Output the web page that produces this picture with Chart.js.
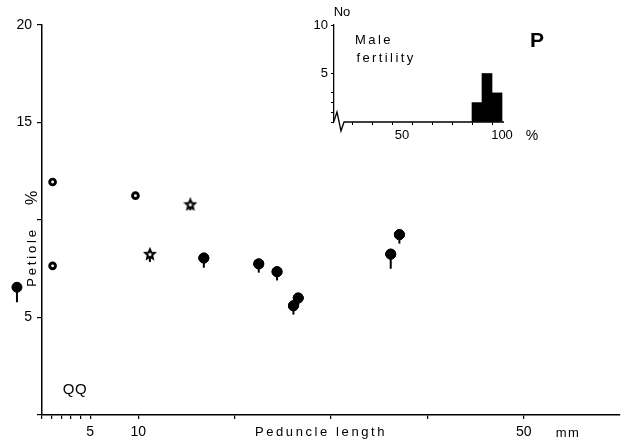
<!DOCTYPE html>
<html>
<head>
<meta charset="utf-8">
<script src="https://cdn.jsdelivr.net/npm/chart.js"></script>
<style>
  html, body { margin: 0; padding: 0; background: #fff; }
  #wrap { position: relative; width: 627px; height: 447px; }
  #main { position: absolute; left: 0; top: 0; }
  #inset { position: absolute; left: 300px; top: 0; }
</style>
</head>
<body>
<div id="wrap">
  <canvas id="main" width="627" height="447"></canvas>
  <canvas id="inset" width="240" height="150"></canvas>
</div>
<script>
// main plot: petiole % against peduncle length (mm)
const filledX = [-2.6, 16.8, 22.5, 24.4, 26.1, 26.6, 36.2, 37.1];
const filledY = [6.55, 8.05, 7.75, 7.35, 5.6, 6.0, 8.25, 9.25];
const filledStem = [0.77, 0.5, 0.45, 0.45, 0.45, 0.4, 0.75, 0.46];

const openX = [1.1, 1.1, 9.7];
const openY = [11.95, 7.65, 11.25];

const starX = [11.2, 15.4];
const starY = [8.25, 10.8];
const starStem = [0.4, 0.3];

const yTickValues = [0, 5, 10, 15, 20];
const yTickLabels = ["", "5", "", "15", "20"];
const xTickValues = [0, 1, 2, 3, 4, 5, 10, 20, 30, 40, 50];
const xTickLabels = ["", "", "", "", "", "5", "10", "", "", "", "50"];

// inset: male fertility histogram
const fertilityBins = [87.5, 92.5, 97.5];
const fertilityCounts = [2, 5, 3];
const insetYTickValues = [0, 1, 2, 3, 5, 10];
const insetYTickLabels = ["", "", "", "", "5", "10"];
const insetXTickValues = [30, 40, 50, 60, 70, 80, 90, 100];
const insetXTickLabels = ["", "", "50", "", "", "", "", "100"];

const FONT = "'Liberation Sans', 'DejaVu Sans', sans-serif";

function toPoints(xs, ys) {
    return xs.map((x, i) => ({ x: x, y: ys[i] }));
}

// small outlined star used for the third group
const starImg = document.createElement("canvas");
starImg.width = 14;
starImg.height = 14;
(function () {
    const c = starImg.getContext("2d");
    c.beginPath();
    for (let k = 0; k < 10; k++) {
        const r = k % 2 === 0 ? 5 : 2.3;
        const a = -Math.PI / 2 + k * Math.PI / 5;
        const px = 7 + r * Math.cos(a), py = 7.3 + r * Math.sin(a);
        if (k === 0) c.moveTo(px, py); else c.lineTo(px, py);
    }
    c.closePath();
    c.fillStyle = "#fff";
    c.fill();
    c.lineWidth = 2;
    c.strokeStyle = "#000";
    c.stroke();
})();

const stemPlugin = {
    id: "stems",
    beforeDatasetsDraw(chart) {
        const ctx = chart.ctx;
        const ys = chart.scales.y;
        chart.data.datasets.forEach((ds, i) => {
            if (!ds.stems) return;
            const meta = chart.getDatasetMeta(i);
            ctx.save();
            ctx.strokeStyle = "#000";
            ctx.lineWidth = 2;
            meta.data.forEach((pt, j) => {
                const end = ys.getPixelForValue(ds.data[j].y - ds.stems[j]);
                ctx.beginPath();
                ctx.moveTo(pt.x, pt.y);
                ctx.lineTo(pt.x, end);
                ctx.stroke();
            });
            ctx.restore();
        });
    },
    afterDatasetsDraw(chart) {
        // points left of the y axis are skipped by Chart.js, draw them over the whole canvas
        const full = { left: 0, top: 0, right: chart.width, bottom: chart.height };
        chart.data.datasets.forEach((ds, i) => {
            if (ds.clip !== false) return;
            chart.getDatasetMeta(i).data.forEach(pt => pt.draw(chart.ctx, full));
        });
    }
};

function drawText(ctx, text, x, y, size, opts = {}) {
    ctx.save();
    ctx.font = (opts.bold ? "bold " : "") + size + "px " + FONT;
    ctx.fillStyle = "#000";
    ctx.textAlign = "center";
    ctx.textBaseline = "middle";
    ctx.letterSpacing = (opts.spacing || 0) + "px";
    ctx.translate(x, y);
    if (opts.rotate) ctx.rotate(opts.rotate);
    ctx.fillText(text, 0, 0);
    ctx.restore();
}

const mainText = {
    id: "mainText",
    afterDraw(chart) {
        const ctx = chart.ctx;
        drawText(ctx, "Petiole", 32, 257, 13, { spacing: 2.8, rotate: -Math.PI / 2 });
        drawText(ctx, "%", 33, 198, 16, { rotate: -Math.PI / 2 });
        drawText(ctx, "Peduncle length", 321, 432, 13, { spacing: 2.6 });
        drawText(ctx, "mm", 568, 433, 13, { spacing: 1.5 });
        drawText(ctx, "QQ", 75, 390, 15, { spacing: 0.5 });
        drawText(ctx, "P", 537, 41, 21, { bold: true });
    }
};

new Chart(document.getElementById("main"), {
    type: "scatter",
    data: {
        datasets: [
            {
                data: toPoints(filledX, filledY),
                stems: filledStem,
                pointStyle: "circle",
                pointRadius: 5,
                borderWidth: 1,
                borderColor: "#000",
                backgroundColor: "#000",
                clip: false
            },
            {
                data: toPoints(openX, openY),
                pointStyle: "circle",
                pointRadius: 2.9,
                borderWidth: 2.9,
                borderColor: "#000",
                backgroundColor: "#fff"
            },
            {
                data: toPoints(starX, starY),
                stems: starStem,
                pointStyle: starImg,
                pointRadius: 6
            }
        ]
    },
    options: {
        responsive: false,
        animation: false,
        events: [],
        layout: { padding: { top: 25, right: 0, left: 0, bottom: 0 } },
        plugins: { legend: { display: false }, tooltip: { enabled: false } },
        scales: {
            x: {
                type: "linear",
                min: 0,
                max: 60,
                afterFit: (s) => { s.height = 32; },
                afterBuildTicks: (s) => { s.ticks = xTickValues.map(v => ({ value: v })); },
                ticks: {
                    autoSkip: false,
                    maxRotation: 0,
                    padding: 5,
                    color: "#000",
                    font: { family: FONT, size: 14 },
                    callback: (v, i) => xTickLabels[i]
                },
                grid: { drawOnChartArea: false, tickLength: 4, color: "#000", lineWidth: 1.2 },
                border: { color: "#000", width: 1.5 }
            },
            y: {
                type: "linear",
                min: 0,
                max: 20,
                afterFit: (s) => { s.width = 42; },
                afterBuildTicks: (s) => { s.ticks = yTickValues.map(v => ({ value: v })); },
                ticks: {
                    autoSkip: false,
                    padding: 5,
                    color: "#000",
                    font: { family: FONT, size: 14 },
                    callback: (v, i) => yTickLabels[i]
                },
                grid: { drawOnChartArea: false, tickLength: 5, color: "#000", lineWidth: 1.2 },
                border: { color: "#000", width: 1.5 }
            }
        }
    },
    plugins: [stemPlugin, mainText]
});

const insetDecor = {
    id: "insetDecor",
    afterDraw(chart) {
        const ctx = chart.ctx;
        const a = chart.chartArea;
        // broken axis zigzag and the x axis line after it
        ctx.save();
        ctx.strokeStyle = "#000";
        ctx.lineWidth = 1.3;
        ctx.beginPath();
        ctx.moveTo(a.left, a.bottom - 1);
        ctx.lineTo(a.left + 3, a.bottom - 10);
        ctx.lineTo(a.left + 7, a.bottom + 9);
        ctx.lineTo(a.left + 10, a.bottom);
        ctx.lineTo(a.right - 2, a.bottom);
        ctx.stroke();
        ctx.restore();
        drawText(ctx, "No", 42, 12, 13);
        drawText(ctx, "Male", 74, 40, 13, { spacing: 2.4 });
        drawText(ctx, "fertility", 86, 58, 13, { spacing: 2.4 });
        drawText(ctx, "%", 232, 136, 14);
    }
};

new Chart(document.getElementById("inset"), {
    type: "bar",
    data: {
        datasets: [{
            data: toPoints(fertilityBins, fertilityCounts),
            backgroundColor: "#000",
            borderWidth: 0,
            barPercentage: 1,
            categoryPercentage: 1
        }]
    },
    options: {
        responsive: false,
        animation: false,
        events: [],
        layout: { padding: { top: 25, right: 34, left: 0, bottom: 0 } },
        plugins: { legend: { display: false }, tooltip: { enabled: false } },
        scales: {
            x: {
                type: "linear",
                offset: false,
                min: 16,
                max: 102,
                afterFit: (s) => { s.height = 28; },
                afterBuildTicks: (s) => { s.ticks = insetXTickValues.map(v => ({ value: v })); },
                ticks: {
                    autoSkip: false,
                    maxRotation: 0,
                    padding: 3,
                    color: "#000",
                    font: { family: FONT, size: 13 },
                    callback: (v, i) => insetXTickLabels[i]
                },
                grid: { drawOnChartArea: false, tickLength: 3, color: "#000", lineWidth: 1 },
                border: { display: false }
            },
            y: {
                type: "linear",
                min: 0,
                max: 10,
                afterFit: (s) => { s.width = 34; },
                afterBuildTicks: (s) => { s.ticks = insetYTickValues.map(v => ({ value: v })); },
                ticks: {
                    autoSkip: false,
                    padding: 3,
                    color: "#000",
                    font: { family: FONT, size: 13 },
                    callback: (v, i) => insetYTickLabels[i]
                },
                grid: { drawOnChartArea: false, tickLength: 3, color: "#000", lineWidth: 1 },
                border: { color: "#000", width: 1.3 }
            }
        }
    },
    plugins: [insetDecor]
});
</script>
</body>
</html>
